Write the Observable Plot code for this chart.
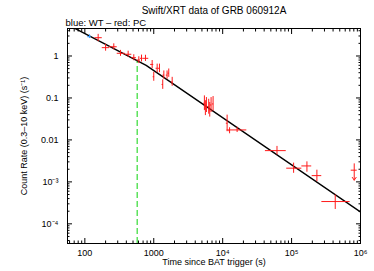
<!DOCTYPE html>
<html><head><meta charset="utf-8">
<script src="https://cdn.jsdelivr.net/npm/d3@7"></script>
<script src="https://cdn.jsdelivr.net/npm/@observablehq/plot@0.6"></script>
<style>body{margin:0;background:#fff} svg{display:block}</style>
</head><body><div id="chart"></div>
<script>
// PC mode (red) points: time, time range, rate, rate range
const pcT      = [156, 200, 263, 329, 425, 513, 607, 664, 758, 948, 1120, 1210, 1000, 1400, 1350, 1560, 1650, 1850, 5430, 5810, 6270, 6790, 7260, 5610, 6490, 11600, 12600, 16200, 61400, 107000, 167000, 233000, 430000];
const pcTLo    = [140, 179, 228, 295, 385, 480, 570, 640, 693, 900, 1080, 1170, 980, 1360, 1320, 1520, 1610, 1800, 5300, 5680, 6130, 6640, 7100, 5480, 6350, 11300, 12300, 11600, 41700, 85000, 141000, 199000, 275000];
const pcTHi    = [179, 228, 295, 385, 480, 560, 640, 690, 846, 1000, 1160, 1250, 1030, 1440, 1380, 1600, 1690, 1900, 5560, 5950, 6420, 6950, 7430, 5750, 6640, 11900, 12900, 22400, 83700, 141000, 196000, 274000, 707000];
const pcRate   = [2.73, 1.58, 1.66, 1.16, 1.10, 0.91, 0.80, 0.88, 0.88, 0.63, 0.51, 0.51, 0.32, 0.35, 0.21, 0.35, 0.39, 0.24, 0.0748, 0.068, 0.062, 0.068, 0.072, 0.057, 0.052, 0.025, 0.0166, 0.0173, 0.00556, 0.00212, 0.0024, 0.00141, 0.00034];
const pcRateLo = [2.19, 1.30, 1.40, 0.98, 0.93, 0.77, 0.66, 0.72, 0.74, 0.50, 0.40, 0.40, 0.25, 0.28, 0.16, 0.28, 0.31, 0.19, 0.050, 0.045, 0.041, 0.045, 0.048, 0.038, 0.035, 0.0157, 0.0140, 0.0150, 0.0044, 0.0016, 0.0017, 0.00101, 0.00022];
const pcRateHi = [3.28, 1.90, 1.95, 1.36, 1.30, 1.07, 0.96, 1.05, 1.04, 0.78, 0.64, 0.64, 0.41, 0.44, 0.27, 0.44, 0.49, 0.31, 0.112, 0.102, 0.093, 0.102, 0.108, 0.086, 0.078, 0.039, 0.0195, 0.0200, 0.0070, 0.0028, 0.0030, 0.0019, 0.00049];
// WT mode (blue) point
const wtT = [117], wtTLo = [110], wtTHi = [124], wtRate = [2.88], wtRateLo = [2.6], wtRateHi = [3.2];
// PC upper limit
const ulT = [811000], ulTLo = [733000], ulTHi = [896000], ulRate = [0.0019], ulTop = [0.0027], ulTip = [0.0011];
// broken power-law model vertices
const modelT = [56, 776, 1000000];
const modelRate = [5.6, 0.60, 0.000191];
// dashed green marker
const markT = [575], markRate = [0.76];
// axes
const xMajor = [100, 1000, 10000, 100000, 1000000];
const xLabels = ["100", "1000", "10⁴", "10⁵", "10⁶"];
const yMajor = [1, 0.1, 0.01, 0.001, 0.0001];
const yLabels = ["1", "0.1", "0.01", "10⁻³", "10⁻⁴"];
const xDomain = [56, 1000000];
const yDomain = [3.4e-5, 4.52];

const minorOf = (lo, hi) => {
  const out = [];
  for (let e = -6; e <= 7; e++) for (let m = 2; m <= 9; m++) {
    const v = m * Math.pow(10, e);
    if (v > lo && v < hi) out.push(v);
  }
  return out;
};
const xMinor = minorOf(xDomain[0], xDomain[1]);
const yMinor = minorOf(yDomain[0], yDomain[1]);

const pc = pcT.map((t, i) => ({t, tLo: pcTLo[i], tHi: pcTHi[i], r: pcRate[i], rLo: pcRateLo[i], rHi: pcRateHi[i]}));
const wt = wtT.map((t, i) => ({t, tLo: wtTLo[i], tHi: wtTHi[i], r: wtRate[i], rLo: wtRateLo[i], rHi: wtRateHi[i]}));
const ul = ulT.map((t, i) => ({t, tLo: ulTLo[i], tHi: ulTHi[i], r: ulRate[i], top: ulTop[i], tip: ulTip[i]}));
const model = modelT.map((t, i) => ({t, r: modelRate[i]}));
const mark = markT.map((t, i) => ({t, r: markRate[i]}));

const font = "'Liberation Sans', Arial, Helvetica, sans-serif";
const red = "#ff1a1a", blue = "#3399ff";

const chart = Plot.plot({
  width: 374, height: 271,
  marginLeft: 67, marginRight: 14, marginTop: 28, marginBottom: 28,
  style: {fontFamily: font, fontSize: "9px", background: "white", color: "black"},
  x: {type: "log", domain: xDomain},
  y: {type: "log", domain: yDomain},
  marks: [
    Plot.ruleX(mark, {x: "t", y1: yDomain[0], y2: "r", stroke: "#44dd44", strokeWidth: 1.3, strokeDasharray: "6,3"}),
    Plot.line(model, {x: "t", y: "r", stroke: "black", strokeWidth: 1.4, clip: true}),
    Plot.ruleY(pc, {y: "r", x1: "tLo", x2: "tHi", stroke: red, strokeWidth: 1}),
    Plot.ruleX(pc, {x: "t", y1: "rLo", y2: "rHi", stroke: red, strokeWidth: 1}),
    Plot.ruleY(wt, {y: "r", x1: "tLo", x2: "tHi", stroke: blue, strokeWidth: 1}),
    Plot.ruleX(wt, {x: "t", y1: "rLo", y2: "rHi", stroke: blue, strokeWidth: 1}),
    Plot.ruleY(ul, {y: "r", x1: "tLo", x2: "tHi", stroke: red, strokeWidth: 1}),
    Plot.arrow(ul, {x1: "t", x2: "t", y1: "top", y2: "tip", stroke: red, strokeWidth: 1, headLength: 5, headAngle: 70}),
    // tick marks, inward on all sides
    Plot.axisX(xMinor, {anchor: "bottom", tickSize: -2.5, fill: "none", tickFormat: null, label: null}),
    Plot.axisX(xMajor, {anchor: "bottom", tickSize: -5, fill: "none", tickFormat: null, label: null}),
    Plot.axisX(xMinor, {anchor: "top", tickSize: -2.5, fill: "none", tickFormat: null, label: null}),
    Plot.axisX(xMajor, {anchor: "top", tickSize: -5, fill: "none", tickFormat: null, label: null}),
    Plot.axisY(yMinor, {anchor: "left", tickSize: -2.5, fill: "none", tickFormat: null, label: null}),
    Plot.axisY(yMajor, {anchor: "left", tickSize: -5, fill: "none", tickFormat: null, label: null}),
    Plot.axisY(yMinor, {anchor: "right", tickSize: -2.5, fill: "none", tickFormat: null, label: null}),
    Plot.axisY(yMajor, {anchor: "right", tickSize: -5, fill: "none", tickFormat: null, label: null}),
    // labels
    Plot.axisX(xMajor, {anchor: "bottom", tickSize: 0, tickPadding: 6, fontSize: 9,
      tickFormat: d => xLabels[xMajor.indexOf(d)],
      label: "Time since BAT trigger (s)", labelAnchor: "center", labelOffset: 21, labelArrow: "none"}),
    Plot.axisY(yMajor, {anchor: "left", tickSize: 0, tickPadding: 9, fontSize: 9,
      tickFormat: d => yLabels[yMajor.indexOf(d)],
      label: "Count Rate (0.3–10 keV) (s⁻¹)", labelAnchor: "center", labelOffset: 47, labelArrow: "none"}),
    Plot.frame({stroke: "black", strokeWidth: 1}),
    Plot.text(["Swift/XRT data of GRB 060912A"], {text: d => d, frameAnchor: "top", dy: -22, fontSize: 10}),
    Plot.text(["blue: WT – red: PC"], {text: d => d, frameAnchor: "top-left", textAnchor: "start", dx: -2, dy: -3, lineAnchor: "bottom", fontSize: 9.5})
  ]
});
document.getElementById("chart").appendChild(chart);
</script>
</body></html>
